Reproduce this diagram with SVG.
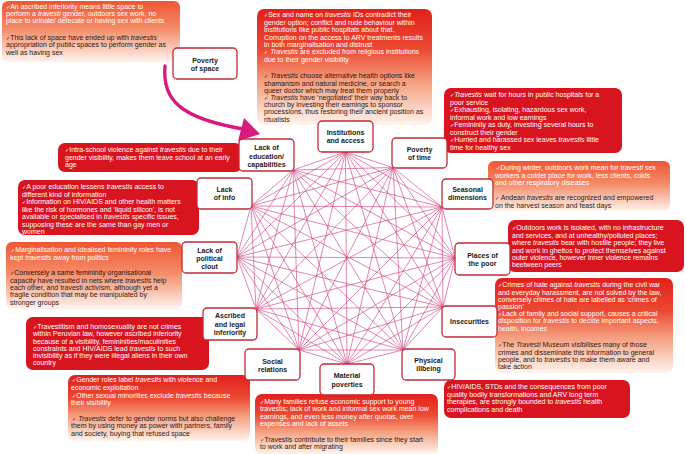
<svg xmlns="http://www.w3.org/2000/svg" width="685" height="454" viewBox="0 0 685 454">
<defs>
<linearGradient id="gRed" x1="0" y1="0" x2="0" y2="1">
<stop offset="0" stop-color="#e2201c"/>
<stop offset="0.35" stop-color="#ec4a32"/>
<stop offset="0.62" stop-color="#f59d7c"/>
<stop offset="1" stop-color="#fff4ee"/>
</linearGradient>
<linearGradient id="gOr" x1="0" y1="0" x2="0" y2="1">
<stop offset="0" stop-color="#ee5634"/>
<stop offset="0.45" stop-color="#f48a66"/>
<stop offset="1" stop-color="#fff4ee"/>
</linearGradient>
<style>
.t{font-family:"Liberation Sans",Arial,sans-serif;font-size:7px}
.w{fill:#ffffff}
.d{fill:#2b1a14}
.k{font-family:"DejaVu Sans",sans-serif;font-size:5px}
.i{font-style:italic}
.solid{fill:#d8141f}
.nb rect{fill:#ffffff;stroke:#c02a33;stroke-width:1.3}
.nl{font-family:"Liberation Sans",Arial,sans-serif;font-size:7px;font-weight:bold;text-anchor:middle;fill:#1a1a1a}
#net line{stroke:#cf4680;stroke-width:0.65}
</style>
</defs>
<rect width="685" height="454" fill="#ffffff"/>

<g id="tb-space">
<rect x="2" y="1" width="178" height="61" rx="6" fill="url(#gOr)"/>
<text class="t w"><tspan x="6" y="9.1"><tspan class="k">✓</tspan>An ascribed inferiority means little space to</tspan><tspan x="6" y="16.4">perform a <tspan class="i">travesti</tspan> gender, outdoors sex work, no</tspan><tspan x="6" y="23.4">place to urinate/ defecate or having sex with clients</tspan></text>
<text class="t d"><tspan x="6" y="39.7"><tspan class="k">✓</tspan>This lack of space have ended up with <tspan class="i">travestis</tspan></tspan><tspan x="6" y="47.4">appropriation of public spaces to perform gender as</tspan><tspan x="6" y="54.7">well as having sex</tspan></text>
</g>

<g id="tb-inst">
<rect x="257" y="9" width="175" height="116" rx="7" fill="url(#gRed)"/>
<text class="t w"><tspan x="264" y="17.4"><tspan class="k">✓</tspan>Sex and name on <tspan class="i">travestis</tspan> IDs contradict their</tspan><tspan x="264" y="24.8">gender option; conflict and rude behaviour within</tspan><tspan x="264" y="32.1">institutions like public hospitals about that.</tspan><tspan x="264" y="39.5">Corruption on the access to ARV treatments results</tspan><tspan x="264" y="46.8">in both marginalisation and distrust</tspan><tspan x="264" y="54.2"><tspan class="k">✓</tspan> <tspan class="i">Travestis</tspan> are excluded from religious institutions</tspan><tspan x="264" y="61.5">due to their gender visibility</tspan></text>
<text class="t d"><tspan x="264" y="78.4"><tspan class="k">✓</tspan> <tspan class="i">Travestis</tspan> choose alternative health options like</tspan><tspan x="264" y="85.6">shamanism and natural medicine, or search a</tspan><tspan x="264" y="92.8">queer doctor which may treat them properly</tspan><tspan x="264" y="100"><tspan class="k">✓</tspan> <tspan class="i">Travestis</tspan> have ‘negotiated’ their way back to</tspan><tspan x="264" y="107.2">church by investing their earnings to sponsor</tspan><tspan x="264" y="114.4">processions, thus restoring their ancient position as</tspan><tspan x="264" y="121.6">ritualists</tspan></text>
</g>

<g id="tb-time">
<rect x="444" y="88" width="178" height="65" rx="7" class="solid"/>
<text class="t w"><tspan x="450" y="97.4"><tspan class="k">✓</tspan><tspan class="i">Travestis</tspan> wait for hours in public hospitals for a</tspan><tspan x="450" y="104.9">poor service</tspan><tspan x="450" y="112.4"><tspan class="k">✓</tspan>Exhausting, isolating, hazardous sex work,</tspan><tspan x="450" y="119.9">informal work and low earnings</tspan><tspan x="450" y="127.4"><tspan class="k">✓</tspan>Femininity as duty, investing several hours to</tspan><tspan x="450" y="134.9">construct their gender</tspan><tspan x="450" y="142.4"><tspan class="k">✓</tspan>Hurried and harassed sex leaves <tspan class="i">travestis</tspan> little</tspan><tspan x="450" y="149.9">time for healthy sex</tspan></text>
</g>

<g id="tb-seas">
<rect x="488" y="161" width="182" height="50" rx="6" fill="url(#gOr)"/>
<text class="t w"><tspan x="496" y="170.4"><tspan class="k">✓</tspan>During winter, outdoors work mean for <tspan class="i">travesti</tspan> sex</tspan><tspan x="495" y="177.6">workers a colder place for work, less clients, colds</tspan><tspan x="495" y="184.8">and other respiratory diseases</tspan></text>
<text class="t d"><tspan x="495" y="200.4"><tspan class="k">✓</tspan> Andean <tspan class="i">travestis</tspan> are recognized and empowered</tspan><tspan x="495" y="207.9">on the harvest season and feast days</tspan></text>
</g>

<g id="tb-places">
<rect x="508" y="220" width="176" height="52" rx="7" class="solid"/>
<text class="t w"><tspan x="512" y="230.4"><tspan class="k">✓</tspan>Outdoors work is isolated, with no infrastructure</tspan><tspan x="512" y="237.8">and services, and at unhealthy/polluted places;</tspan><tspan x="512" y="245.2">where <tspan class="i">travestis</tspan> bear with hostile people; they live</tspan><tspan x="512" y="252.6">and work in ghettos to protect themselves against</tspan><tspan x="512" y="260">outer violence, however inner violence remains</tspan><tspan x="512" y="267.4">beetween peers</tspan></text>
</g>

<g id="tb-insec">
<rect x="495" y="278" width="178" height="95" rx="7" fill="url(#gRed)"/>
<text class="t w"><tspan x="498" y="287.4"><tspan class="k">✓</tspan>Crimes of hate against <tspan class="i">travestis</tspan> during the civil war</tspan><tspan x="498" y="294.6">and everyday harassment, are not solved by the law,</tspan><tspan x="498" y="301.8">conversely crimes of hate are labelled as ‘crimes of</tspan><tspan x="498" y="309">passion’</tspan><tspan x="498" y="316.2"><tspan class="k">✓</tspan>Lack of family and social support, causes a critical</tspan><tspan x="498" y="323.4">disposition for <tspan class="i">travestis</tspan> to decide important  aspects,</tspan><tspan x="498" y="330.6">health, incomes</tspan></text>
<text class="t d"><tspan x="498" y="347.4"><tspan class="k">✓</tspan>The <tspan class="i">Travesti</tspan> Museum visibilises many of those</tspan><tspan x="498" y="354.7">crimes and disseminate this information to general</tspan><tspan x="498" y="362">people, and to <tspan class="i">travestis</tspan>  to make them aware and</tspan><tspan x="498" y="369.3">take action</tspan></text>
</g>

<g id="tb-phys">
<rect x="444" y="380" width="186" height="38" rx="7" class="solid"/>
<text class="t w"><tspan x="447" y="389.1"><tspan class="k">✓</tspan>HIV/AIDS, STDs and the consequences from poor</tspan><tspan x="447" y="396.6">quality bodily transformations and ARV long term</tspan><tspan x="447" y="404.1">therapies, are strongly bounded to <tspan class="i">travestis</tspan> health</tspan><tspan x="447" y="411.6">complications and death</tspan></text>
</g>

<g id="tb-mat">
<rect x="255" y="394" width="183" height="60" rx="7" fill="url(#gRed)"/>
<text class="t w"><tspan x="260" y="404.1"><tspan class="k">✓</tspan>Many families refuse economic support to young</tspan><tspan x="260" y="411.4">travestis; lack of work and informal sex work mean low</tspan><tspan x="260" y="418.6">earnings, and even less money after quotas, over</tspan><tspan x="260" y="425.8">expenses and lack of assets</tspan></text>
<text class="t d"><tspan x="260" y="441.7"><tspan class="k">✓</tspan>Travestis contribute to their families since they start</tspan><tspan x="260" y="449.1">to work and after migrating</tspan></text>
</g>

<g id="tb-soc">
<rect x="68" y="375" width="182" height="66" rx="7" fill="url(#gRed)"/>
<text class="t w"><tspan x="72" y="381.7"><tspan class="k">✓</tspan>Gender roles label <tspan class="i">travestis</tspan> with violence and</tspan><tspan x="71" y="389.7">economic exploitation</tspan><tspan x="72" y="397.5"><tspan class="k">✓</tspan>Other sexual minorities exclude <tspan class="i">travestis</tspan> because</tspan><tspan x="71" y="405.1">their visibility</tspan></text>
<text class="t d"><tspan x="72" y="420.7"><tspan class="k">✓</tspan> <tspan class="i">Travestis</tspan> defer to gender norms but also challenge</tspan><tspan x="71" y="428.1">them by using money as power with partners, family</tspan><tspan x="71" y="435.7">and society, buying that refused space</tspan></text>
</g>

<g id="tb-ascr">
<rect x="26" y="317" width="183" height="53" rx="7" class="solid"/>
<text class="t w"><tspan x="33" y="329.1"><tspan class="k">✓</tspan>Travestitism and homosexuality are not crimes</tspan><tspan x="33" y="336.3">within Peruvian law, however ascribed inferiority</tspan><tspan x="33" y="343.5">because of a visibility, femininities/maculinities</tspan><tspan x="33" y="350.7">constraints and HIV/AIDS lead <tspan class="i">travestis</tspan> to such</tspan><tspan x="33" y="357.9">invisibility as if they were illegal aliens in their own</tspan><tspan x="33" y="365.1">country</tspan></text>
</g>

<g id="tb-polit">
<rect x="6" y="242" width="176" height="67" rx="6" fill="url(#gOr)"/>
<text class="t w"><tspan x="11" y="252.4"><tspan class="k">✓</tspan>Marginalisation and idealised femininity roles have</tspan><tspan x="10" y="259.7">kept <tspan class="i">travestis</tspan> away from politics</tspan></text>
<text class="t d"><tspan x="10" y="275.1"><tspan class="k">✓</tspan>Conversely a same femininity organisational</tspan><tspan x="10" y="282.6">capacity have resulted in nets where <tspan class="i">travestis</tspan> help</tspan><tspan x="10" y="290">each other, and travesti activism, although yet a</tspan><tspan x="10" y="297.4">fragile condition that may be manipulated by</tspan><tspan x="10" y="304.8">stronger groups</tspan></text>
</g>

<g id="tb-info">
<rect x="18" y="180" width="181" height="55" rx="7" class="solid"/>
<text class="t w"><tspan x="22" y="189.1"><tspan class="k">✓</tspan>A poor education lessens <tspan class="i">travestis</tspan> access to</tspan><tspan x="22" y="196.6">different kind of information</tspan><tspan x="22" y="204.1"><tspan class="k">✓</tspan>Information on HIV/AIDS and other health matters</tspan><tspan x="22" y="211.6">like the risk of hormones and ‘liquid silicon’, is not</tspan><tspan x="22" y="219.1">available or specialised in <tspan class="i">travestis</tspan> specific issues,</tspan><tspan x="22" y="226.6">supposing these are the same than gay men or</tspan><tspan x="22" y="234.1">women</tspan></text>
</g>

<g id="tb-edu">
<rect x="58" y="143" width="184" height="29" rx="7" class="solid"/>
<text class="t w"><tspan x="65" y="152.4"><tspan class="k">✓</tspan>Intra-school violence against <tspan class="i">travestis</tspan> due to their</tspan><tspan x="65" y="159.7">gender visibility, makes them leave school at an early</tspan><tspan x="65" y="167">age</tspan></text>
</g>

<g id="arrow">
<path d="M165,66 C162,100 180,118 243,129" fill="none" stroke="#d8197f" stroke-width="3.4" stroke-linecap="round"/>
<polygon points="260,134 244,118 238,141" fill="#d8197f"/>
</g>

<g id="net">
<line x1="345.5" y1="152" x2="393" y2="167.5"/>
<line x1="345.5" y1="152" x2="442" y2="207"/>
<line x1="345.5" y1="152" x2="455" y2="258"/>
<line x1="345.5" y1="152" x2="443" y2="307"/>
<line x1="345.5" y1="152" x2="403" y2="350"/>
<line x1="345.5" y1="152" x2="347" y2="364"/>
<line x1="345.5" y1="152" x2="299" y2="350"/>
<line x1="345.5" y1="152" x2="256" y2="309"/>
<line x1="345.5" y1="152" x2="237" y2="257"/>
<line x1="345.5" y1="152" x2="251" y2="206"/>
<line x1="345.5" y1="152" x2="293" y2="170"/>
<line x1="393" y1="167.5" x2="442" y2="207"/>
<line x1="393" y1="167.5" x2="455" y2="258"/>
<line x1="393" y1="167.5" x2="443" y2="307"/>
<line x1="393" y1="167.5" x2="403" y2="350"/>
<line x1="393" y1="167.5" x2="347" y2="364"/>
<line x1="393" y1="167.5" x2="299" y2="350"/>
<line x1="393" y1="167.5" x2="256" y2="309"/>
<line x1="393" y1="167.5" x2="237" y2="257"/>
<line x1="393" y1="167.5" x2="251" y2="206"/>
<line x1="393" y1="167.5" x2="293" y2="170"/>
<line x1="442" y1="207" x2="455" y2="258"/>
<line x1="442" y1="207" x2="443" y2="307"/>
<line x1="442" y1="207" x2="403" y2="350"/>
<line x1="442" y1="207" x2="347" y2="364"/>
<line x1="442" y1="207" x2="299" y2="350"/>
<line x1="442" y1="207" x2="256" y2="309"/>
<line x1="442" y1="207" x2="237" y2="257"/>
<line x1="442" y1="207" x2="251" y2="206"/>
<line x1="442" y1="207" x2="293" y2="170"/>
<line x1="455" y1="258" x2="443" y2="307"/>
<line x1="455" y1="258" x2="403" y2="350"/>
<line x1="455" y1="258" x2="347" y2="364"/>
<line x1="455" y1="258" x2="299" y2="350"/>
<line x1="455" y1="258" x2="256" y2="309"/>
<line x1="455" y1="258" x2="237" y2="257"/>
<line x1="455" y1="258" x2="251" y2="206"/>
<line x1="455" y1="258" x2="293" y2="170"/>
<line x1="443" y1="307" x2="403" y2="350"/>
<line x1="443" y1="307" x2="347" y2="364"/>
<line x1="443" y1="307" x2="299" y2="350"/>
<line x1="443" y1="307" x2="256" y2="309"/>
<line x1="443" y1="307" x2="237" y2="257"/>
<line x1="443" y1="307" x2="251" y2="206"/>
<line x1="443" y1="307" x2="293" y2="170"/>
<line x1="403" y1="350" x2="347" y2="364"/>
<line x1="403" y1="350" x2="299" y2="350"/>
<line x1="403" y1="350" x2="256" y2="309"/>
<line x1="403" y1="350" x2="237" y2="257"/>
<line x1="403" y1="350" x2="251" y2="206"/>
<line x1="403" y1="350" x2="293" y2="170"/>
<line x1="347" y1="364" x2="299" y2="350"/>
<line x1="347" y1="364" x2="256" y2="309"/>
<line x1="347" y1="364" x2="237" y2="257"/>
<line x1="347" y1="364" x2="251" y2="206"/>
<line x1="347" y1="364" x2="293" y2="170"/>
<line x1="299" y1="350" x2="256" y2="309"/>
<line x1="299" y1="350" x2="237" y2="257"/>
<line x1="299" y1="350" x2="251" y2="206"/>
<line x1="299" y1="350" x2="293" y2="170"/>
<line x1="256" y1="309" x2="237" y2="257"/>
<line x1="256" y1="309" x2="251" y2="206"/>
<line x1="256" y1="309" x2="293" y2="170"/>
<line x1="237" y1="257" x2="251" y2="206"/>
<line x1="237" y1="257" x2="293" y2="170"/>
<line x1="251" y1="206" x2="293" y2="170"/>
</g>

<g id="n-inst" class="nb"><rect x="318" y="121" width="55" height="31" rx="4"/><text class="nl"><tspan x="345.5" y="135.2">Institutions</tspan><tspan x="345.5" y="143.2">and access</tspan></text></g>
<g id="n-time" class="nb"><rect x="392" y="138" width="55" height="30" rx="4"/><text class="nl"><tspan x="419.5" y="151.8">Poverty</tspan><tspan x="419.5" y="160.2">of time</tspan></text></g>
<g id="n-seas" class="nb"><rect x="442" y="179" width="51" height="30" rx="4"/><text class="nl"><tspan x="467.5" y="191.8">Seasonal</tspan><tspan x="467.5" y="199.8">dimensions</tspan></text></g>
<g id="n-places" class="nb"><rect x="455" y="243" width="55" height="32" rx="4"/><text class="nl"><tspan x="482.5" y="257.5">Places of</tspan><tspan x="482.5" y="265.8">the poor</tspan></text></g>
<g id="n-insec" class="nb"><rect x="442" y="306" width="55" height="31" rx="4"/><text class="nl"><tspan x="469.5" y="324.2">Insecurities</tspan></text></g>
<g id="n-phys" class="nb"><rect x="402" y="349" width="53" height="31" rx="4"/><text class="nl"><tspan x="428.5" y="362.5">Physical</tspan><tspan x="428.5" y="370.8">illbeing</tspan></text></g>
<g id="n-mat" class="nb"><rect x="320" y="364" width="54" height="31" rx="4"/><text class="nl"><tspan x="347" y="378.2">Material</tspan><tspan x="347" y="386.5">poverties</tspan></text></g>
<g id="n-soc" class="nb"><rect x="245" y="349" width="55" height="31" rx="4"/><text class="nl"><tspan x="272.5" y="363.5">Social</tspan><tspan x="272.5" y="371.8">relations</tspan></text></g>
<g id="n-ascr" class="nb"><rect x="203" y="308" width="54" height="32" rx="4"/><text class="nl"><tspan x="230" y="318.2">Ascribed</tspan><tspan x="230" y="326.5">and legal</tspan><tspan x="230" y="334.5">inferiority</tspan></text></g>
<g id="n-polit" class="nb"><rect x="182" y="242" width="55" height="31" rx="4"/><text class="nl"><tspan x="209.5" y="253.2">Lack of</tspan><tspan x="209.5" y="261.2">political</tspan><tspan x="209.5" y="269.2">clout</tspan></text></g>
<g id="n-info" class="nb"><rect x="197" y="178" width="55" height="31" rx="4"/><text class="nl"><tspan x="224.5" y="191.8">Lack</tspan><tspan x="224.5" y="199.8">of info</tspan></text></g>
<g id="n-edu" class="nb"><rect x="239" y="139" width="55" height="32" rx="4"/><text class="nl"><tspan x="266.5" y="150.2">Lack of</tspan><tspan x="266.5" y="158.5">education/</tspan><tspan x="266.5" y="166.8">capabilities</tspan></text></g>
<g id="n-space" class="nb"><rect x="173" y="48" width="64" height="31" rx="4"/><text class="nl"><tspan x="205" y="62.5">Poverty</tspan><tspan x="205" y="70.8">of space</tspan></text></g>
</svg>
